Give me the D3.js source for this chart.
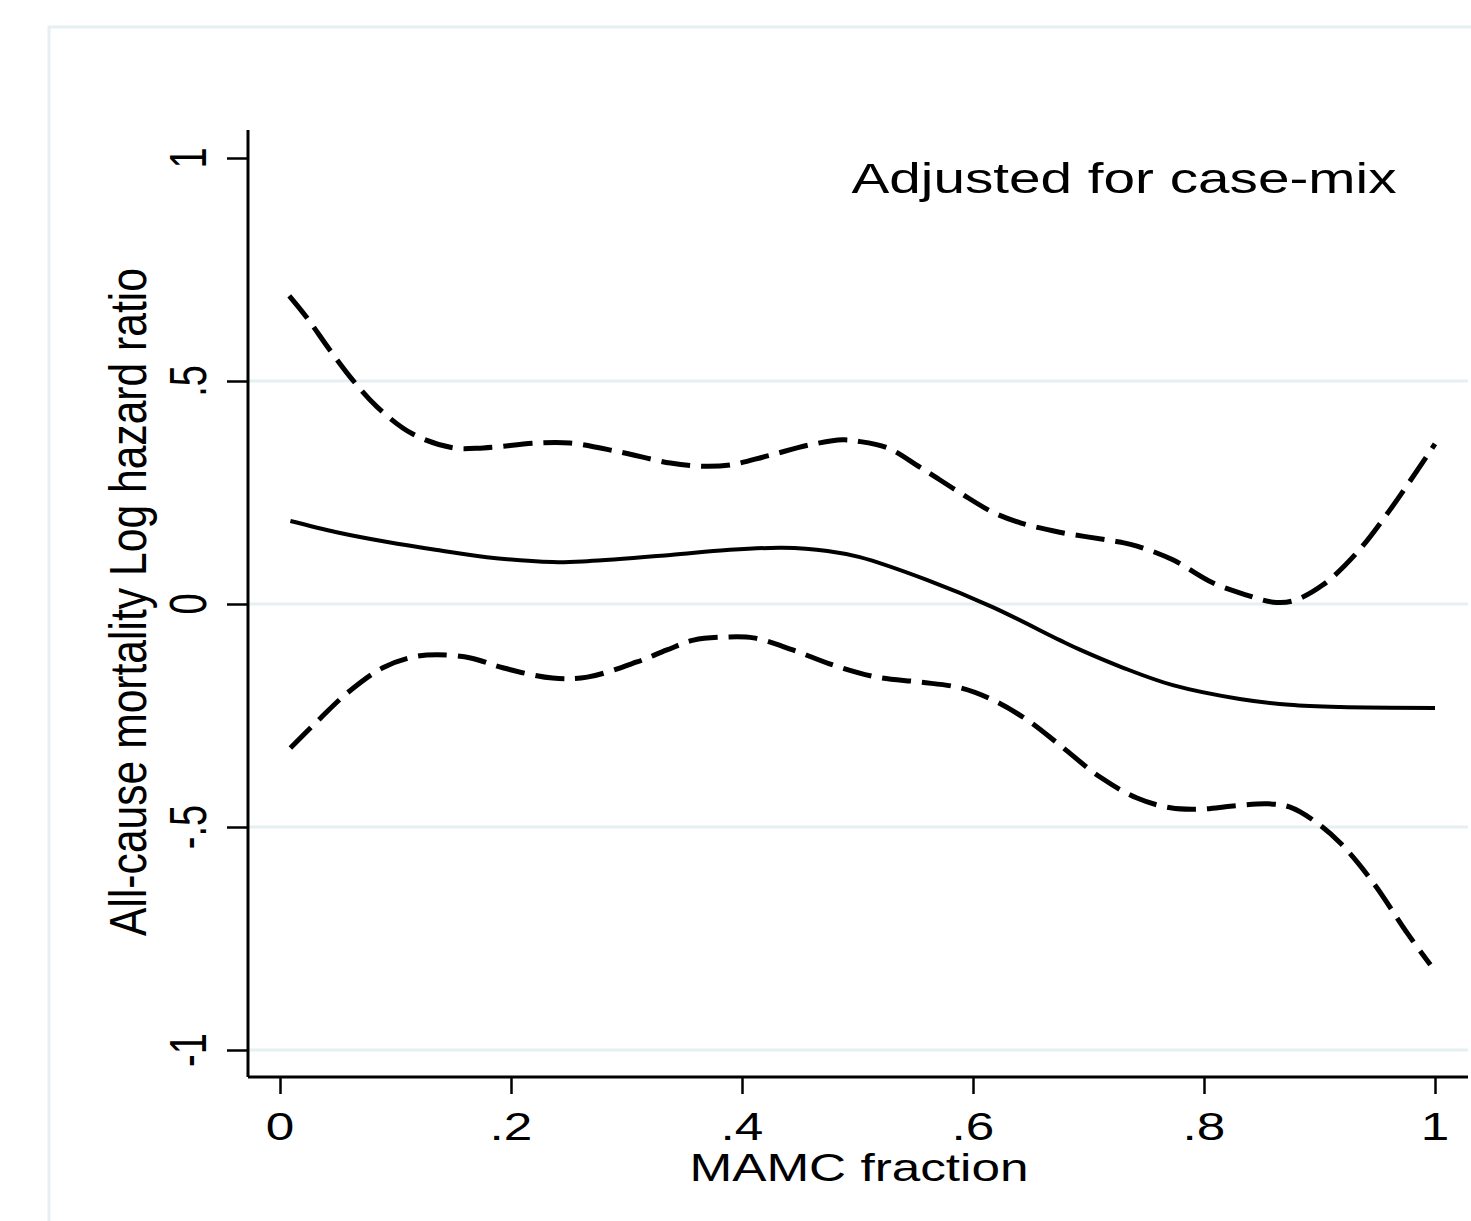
<!DOCTYPE html>
<html>
<head>
<meta charset="utf-8">
<script src="https://cdn.jsdelivr.net/npm/d3@7"></script>
<style>
  body { margin: 0; background: #fff; }
  text { font-family: "Liberation Sans", Arial, Helvetica, sans-serif; fill: #000; }
</style>
</head>
<body>
<svg id="chart" width="1471" height="1221"></svg>
<script>
// Data: x = MAMC fraction, y = log hazard ratio

var estX = [0.009, 0.049, 0.093, 0.136, 0.179, 0.236, 0.266, 0.338, 0.387, 0.435, 0.474, 0.502, 0.560, 0.617, 0.675, 0.693, 0.730, 0.773, 0.831, 0.874, 0.918, 1.0];
var estY = [0.186, 0.161, 0.139, 0.121, 0.105, 0.094, 0.096, 0.110, 0.121, 0.126, 0.119, 0.105, 0.054, -0.007, -0.081, -0.103, -0.143, -0.182, -0.213, -0.226, -0.231, -0.233];

var upperX = [0.008, 0.023, 0.043, 0.063, 0.084, 0.115, 0.150, 0.176, 0.223, 0.251, 0.294, 0.338, 0.366, 0.390, 0.422, 0.459, 0.487, 0.500, 0.526, 0.554, 0.589, 0.617, 0.641, 0.675, 0.727, 0.742, 0.773, 0.808, 0.837, 0.860, 0.877, 0.903, 0.932, 0.961, 1.0];
var upperY = [0.691, 0.643, 0.570, 0.502, 0.442, 0.381, 0.350, 0.350, 0.361, 0.361, 0.341, 0.316, 0.309, 0.312, 0.332, 0.357, 0.368, 0.365, 0.350, 0.307, 0.249, 0.206, 0.182, 0.161, 0.139, 0.130, 0.099, 0.047, 0.020, 0.004, 0.007, 0.043, 0.114, 0.211, 0.359];

var lowerX = [0.009, 0.035, 0.058, 0.089, 0.115, 0.136, 0.165, 0.193, 0.236, 0.266, 0.309, 0.335, 0.358, 0.387, 0.410, 0.444, 0.479, 0.517, 0.554, 0.589, 0.617, 0.647, 0.675, 0.710, 0.742, 0.771, 0.797, 0.825, 0.855, 0.874, 0.898, 0.918, 0.946, 0.976, 0.996];
var lowerY = [-0.323, -0.256, -0.200, -0.143, -0.119, -0.114, -0.121, -0.143, -0.166, -0.164, -0.130, -0.103, -0.081, -0.074, -0.076, -0.103, -0.137, -0.164, -0.175, -0.188, -0.215, -0.260, -0.316, -0.388, -0.435, -0.457, -0.460, -0.453, -0.448, -0.455, -0.491, -0.536, -0.623, -0.738, -0.809];

var xTicks = [0, 0.2, 0.4, 0.6, 0.8, 1];
var xTickLabels = ["0", ".2", ".4", ".6", ".8", "1"];
var yTicks = [-1, -0.5, 0, 0.5, 1];
var yTickLabels = ["-1", "-.5", "0", ".5", "1"];
var gridTicks = [-1, -0.5, 0, 0.5];

var svg = d3.select("#chart");

// plot region edges (pixels)
var plotLeft = 248, plotRight = 1468, plotTop = 130, plotBottom = 1077;
var stretch = 1.35; // text in the original is stretched sideways

var x = d3.scaleLinear().domain([0, 1]).range([280, 1435]);
var y = d3.scaleLinear().domain([-1, 1]).range([1050, 158]);

// outer light frame
svg.append("rect")
  .attr("x", 49).attr("y", 27)
  .attr("width", 1500).attr("height", 1300)
  .attr("fill", "#fff")
  .attr("stroke", "#e6eff1")
  .attr("stroke-width", 3);

// gridlines
svg.append("g").selectAll("line")
  .data(gridTicks)
  .enter().append("line")
  .attr("x1", plotLeft).attr("x2", plotRight)
  .attr("y1", function(d) { return y(d); })
  .attr("y2", function(d) { return y(d); })
  .attr("stroke", "#e6eff1")
  .attr("stroke-width", 3);

// y axis
var yAxis = d3.axisLeft(y).tickValues(yTicks).tickSize(21).tickFormat("");
var yg = svg.append("g")
  .attr("transform", "translate(" + plotLeft + ",0)")
  .call(yAxis);
yg.select(".domain").remove();
yg.selectAll("line").attr("stroke", "#000").attr("stroke-width", 2.5);
yg.append("line")
  .attr("x1", 0).attr("x2", 0)
  .attr("y1", plotTop).attr("y2", plotBottom)
  .attr("stroke", "#000").attr("stroke-width", 3);

// x axis
var xAxis = d3.axisBottom(x).tickValues(xTicks).tickSize(17).tickFormat("");
var xg = svg.append("g")
  .attr("transform", "translate(0," + plotBottom + ")")
  .call(xAxis);
xg.select(".domain").remove();
xg.selectAll("line").attr("stroke", "#000").attr("stroke-width", 2.5);
xg.append("line")
  .attr("x1", plotLeft).attr("x2", plotRight)
  .attr("y1", 0).attr("y2", 0)
  .attr("stroke", "#000").attr("stroke-width", 3);

// tick labels
svg.append("g").selectAll("text")
  .data(xTicks)
  .enter().append("text")
  .attr("transform", function(d) { return "translate(" + x(d) + ",1140) scale(" + stretch + ",1)"; })
  .attr("text-anchor", "middle")
  .attr("font-size", 38)
  .text(function(d, i) { return xTickLabels[i]; });

svg.append("g").selectAll("text")
  .data(yTicks)
  .enter().append("text")
  .attr("transform", function(d) { return "translate(206," + y(d) + ") scale(" + stretch + ",1) rotate(-90)"; })
  .attr("text-anchor", "middle")
  .attr("font-size", 38)
  .text(function(d, i) { return yTickLabels[i]; });

// axis titles
svg.append("text")
  .attr("transform", "translate(859,1181) scale(" + stretch + ",1)")
  .attr("text-anchor", "middle")
  .attr("font-size", 38)
  .text("MAMC fraction");

svg.append("text")
  .attr("transform", "translate(146,602) scale(" + stretch + ",1) rotate(-90)")
  .attr("text-anchor", "middle")
  .attr("font-size", 38)
  .attr("textLength", 668)
  .attr("lengthAdjust", "spacingAndGlyphs")
  .text("All-cause mortality Log hazard ratio");

// note in the corner
svg.append("text")
  .attr("transform", "translate(1124,193) scale(" + stretch + ",1)")
  .attr("text-anchor", "middle")
  .attr("font-size", 42)
  .text("Adjusted for case-mix");

// lines
var line = d3.line()
  .x(function(d) { return x(d[0]); })
  .y(function(d) { return y(d[1]); })
  .curve(d3.curveCatmullRom.alpha(0.5));

var series = [
  { xs: upperX, ys: upperY, dash: "29,11", width: 5 },
  { xs: lowerX, ys: lowerY, dash: "29,11", width: 5 },
  { xs: estX, ys: estY, dash: null, width: 4 }
];

series.forEach(function(s) {
  var pts = s.xs.map(function(v, i) { return [v, s.ys[i]]; });
  svg.append("path")
    .datum(pts)
    .attr("d", line)
    .attr("fill", "none")
    .attr("stroke", "#000")
    .attr("stroke-width", s.width)
    .attr("stroke-dasharray", s.dash);
});
</script>
</body>
</html>
